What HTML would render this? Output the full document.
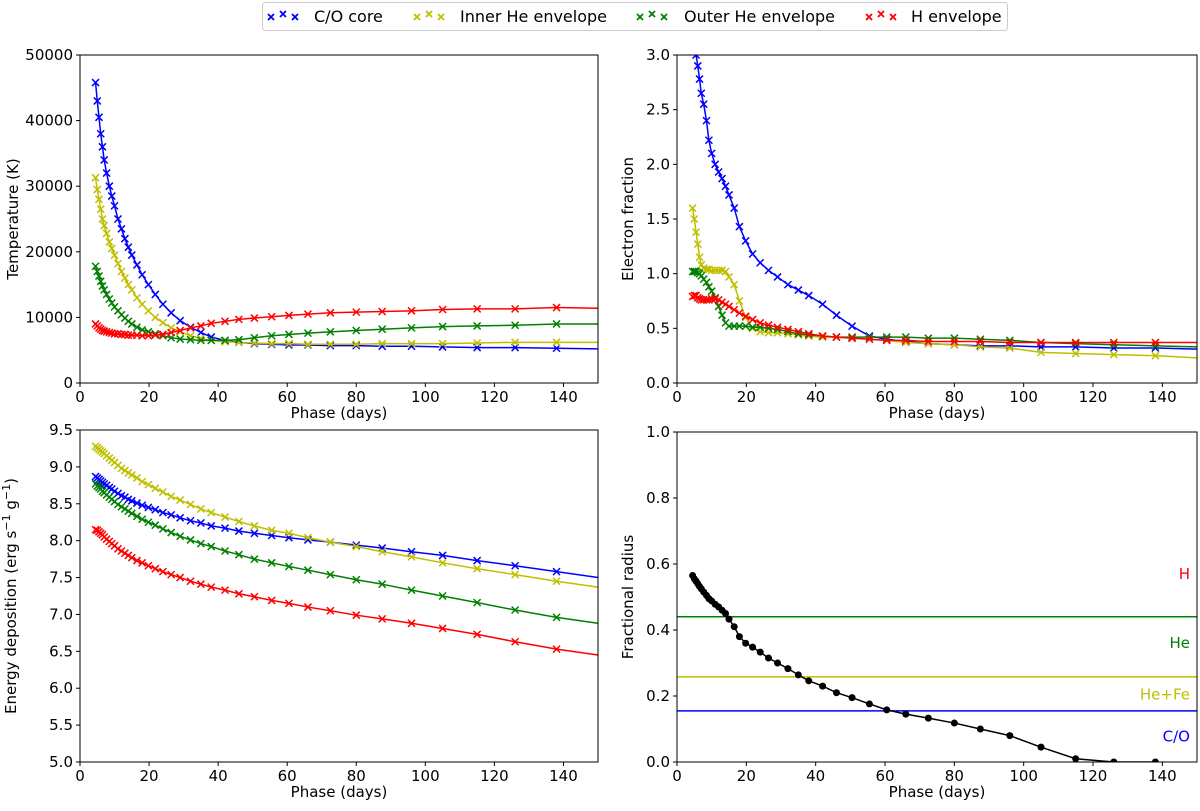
<!DOCTYPE html>
<html><head><meta charset="utf-8"><style>
body{margin:0;background:#fff;}
svg text{font-family:"DejaVu Sans","Liberation Sans",sans-serif;fill:#000;}
</style></head><body>
<svg id="fig" width="1200" height="806" xmlns="http://www.w3.org/2000/svg">
<g id="legend">
<rect x="262.5" y="2.5" width="745" height="28" rx="3" fill="#fff" stroke="#ccc"/>
</g>
</svg>
<script>
const phases=[4.5,5,5.5,6,6.5,7,7.7,8.5,9.2,10,11,12,13,14,15,16.5,18,19.8,21.8,24,26.4,29,32,35,38,42,46,50.5,55.5,60.5,66,72.5,80,87.5,96,105,115,126,138,150];
const seriesNames=["C/O core","Inner He envelope","Outer He envelope","H envelope"];
const seriesColors=["#0000ff","#bfbf00","#008000","#ff0000"];
const tempCO=[45800,43000,40500,38000,36000,34000,32000,30000,28500,27000,25000,23500,22000,20700,19500,18000,16500,15000,13500,12000,10700,9500,8500,7700,7000,6500,6200,6000,5900,5800,5800,5700,5700,5600,5600,5500,5400,5400,5300,5200];
const tempInnerHe=[31300,29500,28000,26500,25000,24000,22800,21500,20500,19500,18200,17000,16000,15000,14200,13000,12000,11000,10000,9200,8400,7800,7200,6800,6500,6300,6200,6100,6000,6000,5900,5900,5900,6000,6000,6000,6100,6200,6200,6200];
const tempOuterHe=[17800,17000,16300,15500,14800,14200,13500,12800,12200,11600,11000,10400,9900,9400,9000,8500,8100,7800,7500,7200,6900,6700,6600,6500,6500,6500,6600,6900,7200,7400,7600,7800,8000,8200,8400,8600,8700,8800,9000,9000];
const tempH=[9000,8700,8400,8200,8000,7900,7800,7700,7600,7500,7500,7400,7400,7300,7300,7300,7200,7200,7300,7400,7700,8000,8400,8700,9100,9400,9700,9900,10100,10300,10500,10700,10800,10900,11000,11200,11300,11300,11500,11400];
const efCO=[3.3,3.15,3.0,2.9,2.78,2.65,2.55,2.4,2.22,2.1,2.0,1.93,1.87,1.8,1.72,1.6,1.43,1.3,1.18,1.1,1.03,0.97,0.9,0.85,0.8,0.72,0.62,0.52,0.43,0.4,0.38,0.36,0.35,0.34,0.34,0.33,0.33,0.32,0.32,0.31];
const efInnerHe=[1.6,1.5,1.38,1.27,1.15,1.08,1.05,1.04,1.04,1.03,1.03,1.03,1.03,1.02,0.97,0.9,0.75,0.6,0.5,0.47,0.46,0.46,0.45,0.44,0.43,0.42,0.42,0.41,0.4,0.39,0.37,0.36,0.35,0.33,0.32,0.28,0.27,0.26,0.25,0.23];
const efOuterHe=[1.02,1.02,1.02,1.01,1.0,0.98,0.95,0.92,0.88,0.84,0.78,0.7,0.62,0.55,0.52,0.52,0.52,0.52,0.51,0.51,0.5,0.49,0.47,0.45,0.44,0.43,0.42,0.42,0.42,0.42,0.42,0.41,0.41,0.4,0.39,0.37,0.36,0.35,0.34,0.33];
const efH=[0.79,0.8,0.8,0.78,0.77,0.76,0.76,0.76,0.76,0.77,0.77,0.76,0.74,0.72,0.7,0.67,0.64,0.61,0.58,0.55,0.53,0.51,0.49,0.47,0.45,0.43,0.42,0.41,0.4,0.39,0.39,0.38,0.38,0.38,0.37,0.37,0.37,0.37,0.37,0.37];
const edCO=[8.87,8.85,8.83,8.81,8.79,8.77,8.75,8.72,8.7,8.67,8.64,8.61,8.59,8.56,8.54,8.51,8.48,8.45,8.42,8.38,8.35,8.31,8.27,8.24,8.2,8.17,8.13,8.1,8.07,8.04,8.01,7.98,7.94,7.9,7.85,7.8,7.73,7.66,7.58,7.5];
const edInnerHe=[9.28,9.26,9.24,9.22,9.2,9.18,9.15,9.12,9.09,9.06,9.02,8.98,8.95,8.92,8.89,8.85,8.8,8.76,8.71,8.66,8.6,8.55,8.49,8.43,8.38,8.32,8.26,8.2,8.14,8.1,8.04,7.98,7.92,7.85,7.78,7.7,7.62,7.54,7.45,7.37];
const edOuterHe=[8.77,8.74,8.72,8.7,8.67,8.65,8.62,8.59,8.56,8.53,8.49,8.46,8.43,8.4,8.37,8.33,8.29,8.25,8.21,8.16,8.11,8.06,8.01,7.96,7.92,7.86,7.81,7.75,7.7,7.65,7.6,7.54,7.47,7.41,7.33,7.25,7.16,7.06,6.96,6.88];
const edH=[8.15,8.14,8.12,8.1,8.08,8.05,8.02,7.99,7.96,7.93,7.89,7.86,7.83,7.8,7.77,7.73,7.7,7.66,7.62,7.58,7.54,7.5,7.45,7.41,7.37,7.33,7.28,7.24,7.19,7.15,7.1,7.05,6.99,6.94,6.88,6.81,6.73,6.63,6.53,6.45];
const radius=[0.565,0.555,0.548,0.54,0.532,0.525,0.515,0.505,0.495,0.488,0.478,0.47,0.46,0.45,0.433,0.41,0.38,0.36,0.348,0.333,0.315,0.3,0.283,0.264,0.246,0.23,0.21,0.195,0.176,0.158,0.145,0.133,0.118,0.1,0.08,0.045,0.01,0.0,0.0];
const layerBounds=[0.44,0.258,0.155];
const layerColors=["#008000","#bfbf00","#0000ff"];
const layerLabels=["H","He","He+Fe","C/O"];
const layerLabelY=[0.57,0.36,0.205,0.078];
const layerLabelColors=["#ff0000","#008000","#bfbf00","#0000ff"];
const xTicks=[0,20,40,60,80,100,120,140];
const tempTicks=[0,10000,20000,30000,40000,50000];
const efTicks=[0,0.5,1,1.5,2,2.5,3];
const edTicks=[5,5.5,6,6.5,7,7.5,8,8.5,9,9.5];
const radTicks=[0,0.2,0.4,0.6,0.8,1];

const NS="http://www.w3.org/2000/svg";
const fig=document.getElementById('fig');
function mk(tag,attrs,parent){const e=document.createElementNS(NS,tag);for(const k in attrs)e.setAttribute(k,attrs[k]);(parent||fig).appendChild(e);return e;}

function panel(id,L,R,T,B,ymin,ymax,yticks,dec,ylabel,ylx){
  const g=mk('g',{});
  
  
  const sx=v=>L+(v-0)/150*(R-L);
  const sy=v=>B-(v-ymin)/(ymax-ymin)*(B-T);
  const cp=mk('clipPath',{id:'clip-'+id},g);
  mk('rect',{x:L,y:T,width:R-L,height:B-T},cp);
  const plot=mk('g',{'clip-path':'url(#clip-'+id+')'},g);
  
  
  xTicks.forEach(t=>{
    const x=sx(t);
    mk('line',{x1:x,x2:x,y1:B,y2:B+4,stroke:'#000','stroke-width':1},g);
    const tx=mk('text',{x:x,y:B+19,'text-anchor':'middle','font-size':15},g);
    tx.textContent=t;
    
    
  });
  yticks.forEach(t=>{
    const y=sy(t);
    mk('line',{x1:L-4,x2:L,y1:y,y2:y,stroke:'#000','stroke-width':1},g);
    const tx=mk('text',{x:L-7,y:y+5,'text-anchor':'end','font-size':15},g);
    tx.textContent=t.toFixed(dec);
    
    
  });
  const xl=mk('text',{x:(L+R)/2,y:B+35,'text-anchor':'middle','font-size':15},g);
  xl.textContent='Phase (days)';
  
  
  const yl=mk('text',{x:0,y:0,'text-anchor':'middle','font-size':15,transform:'translate('+ylx+','+((T+B)/2)+') rotate(-90)'},g);
  yl.innerHTML=ylabel;
  
  
  return {g,plot,sx,sy,L,R,T,B};
}
function frame(p){mk('rect',{x:p.L,y:p.T,width:p.R-p.L,height:p.B-p.T,fill:'none',stroke:'#000','stroke-width':1},p.g);}
function series(p,vals,color,name){
  const s=mk('g',{},p.plot);
  
  
  const pts=vals.map((v,i)=>p.sx(phases[i])+','+p.sy(v)).join(' ');
  mk('polyline',{points:pts,fill:'none',stroke:color,'stroke-width':1.5},s);
  vals.forEach((v,i)=>{
    if(phases[i]>=150)return;
    const x=p.sx(phases[i]),y=p.sy(v),r=3.5;
    mk('path',{d:`M${x-r},${y-r}L${x+r},${y+r}M${x-r},${y+r}L${x+r},${y-r}`,stroke:color,'stroke-width':1.5},s);
  });
}
const P1=panel('temperature-panel',80,598,55,383,0,50000,tempTicks,0,'Temperature (K)',18);
[tempCO,tempInnerHe,tempOuterHe,tempH].forEach((d,i)=>series(P1,d,seriesColors[i],'temperature-'+['co','inner-he','outer-he','h'][i]+'-series'));
frame(P1);
const P2=panel('electron-panel',677,1197,55,383,0,3,efTicks,1,'Electron fraction',633);
[efCO,efInnerHe,efOuterHe,efH].forEach((d,i)=>series(P2,d,seriesColors[i],'electron-'+['co','inner-he','outer-he','h'][i]+'-series'));
frame(P2);
const P3=panel('energy-panel',80,598,430,762,5,9.5,edTicks,1,'Energy deposition (erg s<tspan dy="-6" font-size="11">−1</tspan><tspan dy="6"> g</tspan><tspan dy="-6" font-size="11">−1</tspan><tspan dy="6">)</tspan>',16);
[edCO,edInnerHe,edOuterHe,edH].forEach((d,i)=>series(P3,d,seriesColors[i],'energy-'+['co','inner-he','outer-he','h'][i]+'-series'));
frame(P3);
const P4=panel('radius-panel',677,1197,432,762,0,1,radTicks,1,'Fractional radius',633);
layerBounds.forEach((b,i)=>{
  const l=mk('line',{x1:P4.L,x2:P4.R,y1:P4.sy(b),y2:P4.sy(b),stroke:layerColors[i],'stroke-width':1.5},P4.plot);
  
  
});
layerLabels.forEach((t,i)=>{
  const tx=mk('text',{x:1190,y:P4.sy(layerLabelY[i])+5,'text-anchor':'end','font-size':15,style:'fill:'+layerLabelColors[i]},P4.g);
  tx.textContent=t;
  
  
});
(function(){
  const s=mk('g',{},P4.plot);
  
  
  mk('polyline',{points:radius.map((v,i)=>P4.sx(phases[i])+','+P4.sy(v)).join(' '),fill:'none',stroke:'#000','stroke-width':1.5},s);
  radius.forEach((v,i)=>mk('circle',{cx:P4.sx(phases[i]),cy:P4.sy(v),r:3.5,fill:'#000'},s));
})();
frame(P4);
// legend
const lg=document.getElementById('legend');
const legX=[271,417,640,869];
const legTextX=[314,460,684,911];
seriesNames.forEach((n,i)=>{
  const e=mk('g',{},lg);
  
  
  [[0,17],[12,14],[24,17]].forEach(([dx,y])=>{
    const x=legX[i]+dx;
    mk('path',{d:`M${x-3},${y-3}L${x+3},${y+3}M${x-3},${y+3}L${x+3},${y-3}`,stroke:seriesColors[i],'stroke-width':1.8},e);
  });
  const t=mk('text',{x:legTextX[i],y:22,'font-size':16},e);
  t.textContent=n;
});
</script>
</body></html>
